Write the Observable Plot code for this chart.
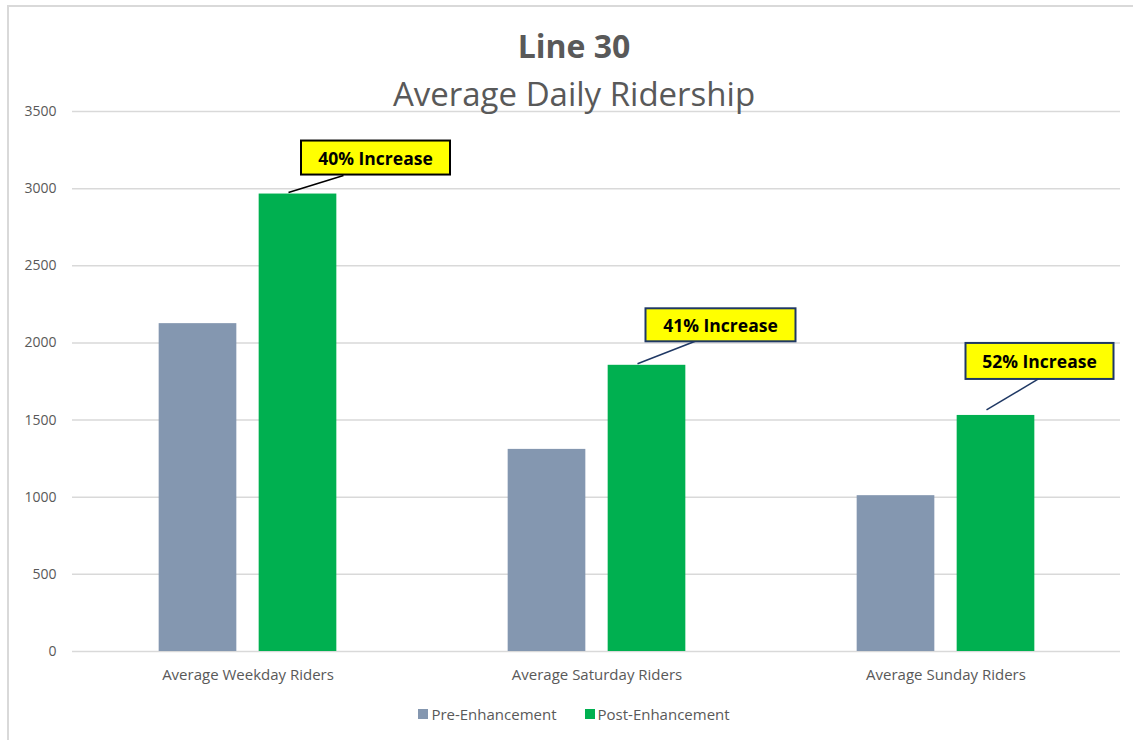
<!DOCTYPE html>
<html>
<head>
<meta charset="utf-8">
<script src="https://cdn.jsdelivr.net/npm/d3@7"></script>
<script src="https://cdn.jsdelivr.net/npm/@observablehq/plot@0.6"></script>
<style>
  body { margin: 0; background: #ffffff; }
  #wrap { position: relative; width: 1133px; height: 740px; overflow: hidden; font-family: "Open Sans", sans-serif; color: #595959; }
  #border { position: absolute; left: 7px; top: 5px; width: 1200px; height: 800px; border-top: 2px solid #d9d9d9; border-left: 2px solid #d9d9d9; }
  .title { position: absolute; left: 0; width: 1148px; text-align: center; line-height: 1; white-space: nowrap; color: #595959; z-index: 2; }
  #t1 { top: 30px; font-size: 32px; font-weight: 700; }
  #t2 { top: 77px; font-size: 33px; font-weight: 400; }
  #chart { position: absolute; left: 0; top: 0; z-index: 1; }
  #legend { position: absolute; top: 704px; left: 0; width: 1148px; display: flex; justify-content: center; gap: 28px; font-size: 15px; color: #595959; z-index: 2; }
  #legend .item { display: flex; align-items: center; gap: 3px; }
  #legend .sw { width: 10px; height: 10px; display: inline-block; }
</style>
</head>
<body>
<div id="wrap">
  <div id="border"></div>
  <div class="title" id="t1">Line 30</div>
  <div class="title" id="t2">Average Daily Ridership</div>
  <div id="chart"></div>
  <div id="legend"></div>
</div>
<script>
// ---- data ----
const categories = ["Average Weekday Riders", "Average Saturday Riders", "Average Sunday Riders"];
const series = ["Pre-Enhancement", "Post-Enhancement"];
const preValues = [2125, 1310, 1010];
const postValues = [2965, 1855, 1530];
const increaseLabels = ["40% Increase", "41% Increase", "52% Increase"];
const yTicks = [0, 500, 1000, 1500, 2000, 2500, 3000, 3500];
const seriesColors = ["#8497B0", "#00B050"];

// ---- derived tables ----
const rows = categories.flatMap((c, i) => [
  {category: c, series: series[0], value: preValues[i]},
  {category: c, series: series[1], value: postValues[i]}
]);
const callouts = categories.map((c, i) => ({category: c, value: postValues[i], label: increaseLabels[i]}));

// ---- layout / style ----
const W = 1133, H = 700;
const mL = 72, mR = 13, mT = 111, mB = 49;
const barW = 78, barShift = 50;
const band = (W - mL - mR) / categories.length;
const inset = (band - barW) / 2;
const fontFamily = '"Open Sans", sans-serif';
// callout geometry relative to the top-centre of the post-enhancement bar (pixels)
const calloutLayout = [
  {box: [78, -36], w: 149, h: 34, from: [-9, -1], to: [46, -18], color: "#000000"},
  {box: [74, -40], w: 150, h: 33, from: [-9, -1], to: [50, -24], color: "#1F3864"},
  {box: [44, -54], w: 148, h: 36, from: [-9, -5], to: [43, -36], color: "#1F3864"}
];

const barMarks = series.map((s, k) =>
  Plot.barY(rows.filter(d => d.series === s), {
    x: "category", y: "value", fill: "series",
    insetLeft: inset, insetRight: inset,
    dx: k === 0 ? -barShift : barShift
  })
);

const chart = Plot.plot({
  width: W, height: H,
  marginLeft: mL, marginRight: mR, marginTop: mT, marginBottom: mB,
  style: {fontFamily, fontSize: "14px", color: "#595959", background: "transparent", overflow: "visible"},
  x: {domain: categories, padding: 0, label: null},
  y: {domain: [0, 3500], label: null},
  color: {domain: series, range: seriesColors},
  marks: [
    Plot.gridY(yTicks, {stroke: "#d9d9d9", strokeOpacity: 1, strokeWidth: 1.5}),
    Plot.axisY(yTicks, {tickSize: 0, tickPadding: 16, fontSize: 14, fill: "#595959", label: null, tickFormat: d => String(d)}),
    Plot.axisX({tickSize: 0, tickPadding: 18, fontSize: 15, fill: "#595959", label: null}),
    ...barMarks,
    Plot.text(callouts, {
      x: "category", y: "value", text: "label",
      render(index, scales, values) {
        const bw = scales.x && scales.x.bandwidth ? scales.x.bandwidth() : 0;
        const g = d3.create("svg:g");
        for (const i of index) {
          const L = calloutLayout[i];
          const cx = values.x[i] + bw / 2 + barShift;
          const ty = values.y[i];
          g.append("line")
            .attr("x1", cx + L.from[0]).attr("y1", ty + L.from[1])
            .attr("x2", cx + L.to[0]).attr("y2", ty + L.to[1])
            .attr("stroke", L.color).attr("stroke-width", 1.5);
          const bx = cx + L.box[0], by = ty + L.box[1];
          g.append("rect")
            .attr("x", bx - L.w / 2).attr("y", by - L.h / 2)
            .attr("width", L.w).attr("height", L.h)
            .attr("fill", "#FFFF00").attr("stroke", L.color).attr("stroke-width", 2);
          g.append("text")
            .attr("x", bx).attr("y", by)
            .attr("text-anchor", "middle").attr("dominant-baseline", "central")
            .attr("font-family", fontFamily).attr("font-size", 17.5).attr("font-weight", 700)
            .attr("fill", "#000000")
            .text(values.text ? values.text[i] : callouts[i].label);
        }
        return g.node();
      }
    })
  ]
});
document.getElementById("chart").appendChild(chart);

// ---- legend ----
const legend = d3.select("#legend");
series.forEach((s, k) => {
  const item = legend.append("div").attr("class", "item");
  item.append("span").attr("class", "sw").style("background", seriesColors[k]);
  item.append("span").text(s);
});
</script>
</body>
</html>
